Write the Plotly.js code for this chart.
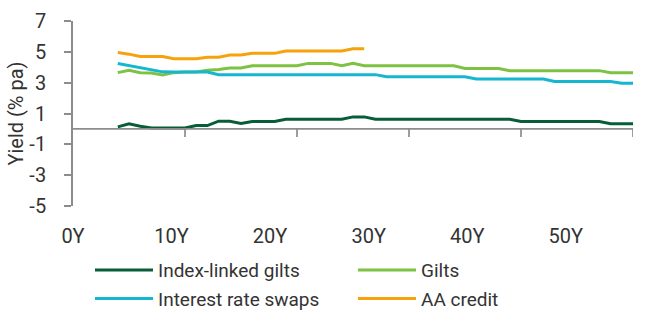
<!DOCTYPE html>
<html>
<head>
<meta charset="utf-8">
<script src="https://cdn.plot.ly/plotly-3.0.1.min.js"></script>
<style>html,body{margin:0;padding:0;background:#fff;}#chart{width:654px;height:312px;}</style>
</head>
<body>
<div id="chart"></div>
<script>
const tenorTicks = [0, 10, 20, 30, 40, 50];
const tenorLabels = ['0Y', '10Y', '20Y', '30Y', '40Y', '50Y'];
const yTicks = [-5, -3, -1, 1, 3, 5, 7];
const yTickLabels = ['-5', '-3', '-1', '1', '3', '5', '7'];

const yearsLong = [4,5,6,7,8,9,10,11,12,13,14,15,16,17,18,19,20,21,22,23,24,25,26,27,28,29,30,31,32,33,34,35,36,37,38,39,40,41,42,43,44,45,46,47,48,49,50];
const yearsCredit = [4,5,6,7,8,9,10,11,12,13,14,15,16,17,18,19,20,21,22,23,24,25,26];

const indexLinked = [0.13,0.33,0.17,0.06,0.06,0.06,0.06,0.22,0.22,0.5,0.5,0.35,0.48,0.48,0.48,0.63,0.63,0.63,0.63,0.63,0.63,0.78,0.78,0.63,0.63,0.63,0.63,0.63,0.63,0.63,0.63,0.63,0.63,0.63,0.63,0.63,0.48,0.48,0.48,0.48,0.48,0.48,0.48,0.48,0.33,0.33,0.33];
const gilts = [3.65,3.8,3.65,3.63,3.5,3.65,3.69,3.69,3.8,3.85,3.95,3.95,4.1,4.1,4.1,4.1,4.1,4.25,4.25,4.25,4.1,4.25,4.1,4.1,4.1,4.1,4.1,4.1,4.1,4.1,4.1,3.92,3.92,3.92,3.92,3.78,3.78,3.78,3.78,3.78,3.78,3.78,3.78,3.78,3.65,3.65,3.65];
const swaps = [4.24,4.1,3.97,3.83,3.7,3.69,3.69,3.69,3.69,3.52,3.52,3.52,3.52,3.52,3.52,3.52,3.52,3.52,3.52,3.52,3.52,3.52,3.52,3.52,3.38,3.38,3.38,3.38,3.38,3.38,3.38,3.38,3.24,3.24,3.24,3.24,3.24,3.24,3.24,3.08,3.08,3.08,3.08,3.08,3.08,2.96,2.96];
const aaCredit = [4.95,4.85,4.7,4.7,4.7,4.55,4.55,4.55,4.65,4.65,4.8,4.8,4.9,4.9,4.9,5.05,5.05,5.05,5.05,5.05,5.05,5.2,5.2];

const FONT = 'Roboto, "Liberation Sans", sans-serif';
const TXT = '#333';
const AXIS = '#8c8c8c';
// the original's category labels sit on a slightly compressed spacing relative to the plotted tenors
const LABEL_SPACING = 0.88;
// depth of the tick marks hanging below the zero line, in y units (about 8 px)
const TICK_DEPTH = 0.52;

// horizontal axis through zero with downward tick marks, built from the tick array
const axisX = [tenorTicks[0], tenorTicks[tenorTicks.length - 1], null];
const axisY = [0, 0, null];
tenorTicks.slice(1).forEach(t => { axisX.push(t, t, null); axisY.push(0, -TICK_DEPTH, null); });

const traces = [
  {x: yearsLong, y: indexLinked, name: 'Index-linked gilts', mode: 'lines', line: {color: '#075e36', width: 3}, legend: 'legend'},
  {x: yearsLong, y: gilts, name: 'Gilts', mode: 'lines', line: {color: '#7dc242', width: 3}, legend: 'legend'},
  {x: yearsLong, y: swaps, name: 'Interest rate swaps', mode: 'lines', line: {color: '#14b6d0', width: 3}, legend: 'legend2'},
  {x: yearsCredit, y: aaCredit, name: 'AA credit', mode: 'lines', line: {color: '#f7a20c', width: 3}, legend: 'legend2'},
  {x: axisX, y: axisY, mode: 'lines', line: {color: AXIS, width: 1.7}, showlegend: false,
   hoverinfo: 'skip', connectgaps: false}
];

const legendBase = {orientation: 'h', xref: 'container', yref: 'container', x: 0.1376, xanchor: 'left',
  yanchor: 'top', traceorder: 'normal', itemwidth: 58, entrywidth: 190,
  bgcolor: 'rgba(0,0,0,0)', font: {family: FONT, size: 19, color: TXT}};

const layout = {
  width: 654, height: 312,
  margin: {l: 73, r: 21, t: 21, b: 106},
  paper_bgcolor: '#fff', plot_bgcolor: '#fff',
  font: {family: FONT, size: 20, color: TXT},
  showlegend: true,
  legend: Object.assign({}, legendBase, {y: 0.195}),
  legend2: Object.assign({}, legendBase, {y: 0.104}),
  xaxis: {range: [0, 50], anchor: 'y', showline: false, ticks: '', showgrid: false, zeroline: false,
          tickvals: tenorTicks.map(t => t * LABEL_SPACING), ticktext: tenorLabels,
          ticklabelstandoff: 16, tickfont: {family: FONT, size: 20, color: TXT}},
  yaxis: {range: [-5, 7], tickvals: yTicks, ticktext: yTickLabels, anchor: 'x', showline: true,
          linecolor: AXIS, linewidth: 1.7, ticks: 'outside', ticklen: 7, tickcolor: AXIS, tickwidth: 1.7,
          showgrid: false, zeroline: false, ticklabelstandoff: 14,
          tickfont: {family: FONT, size: 20, color: TXT},
          title: {text: 'Yield (% pa)', font: {family: FONT, size: 20, color: TXT}, standoff: 0}}
};

Plotly.newPlot('chart', traces, layout, {displayModeBar: false});
</script>
</body>
</html>
